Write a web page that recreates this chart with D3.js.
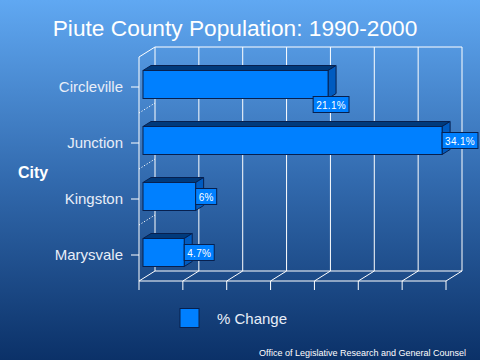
<!DOCTYPE html>
<html>
<head>
<meta charset="utf-8">
<script src="https://cdn.jsdelivr.net/npm/d3@7/dist/d3.min.js"></script>
<style>
  body { margin: 0; }
  svg { display: block; font-family: "Liberation Sans", Arial, sans-serif; }
</style>
</head>
<body>
<div id="chart"></div>
<script>
const cities = ["Circleville", "Junction", "Kingston", "Marysvale"];
const pctChange = [21.1, 34.1, 6, 4.7];
const valueLabels = ["21.1%", "34.1%", "6%", "4.7%"];
const xTicks = [0, 5, 10, 15, 20, 25, 30, 35];

const W = 480, H = 360;
// 3D depth of the plot box (back wall offset)
const depth = { dx: 16, dy: -10 };
const front = { left: 139, right: 446, top: 57, bottom: 281 };

const svg = d3.select("#chart").append("svg")
  .attr("width", W).attr("height", H);

const defs = svg.append("defs");
const grad = defs.append("linearGradient")
  .attr("id", "bg").attr("x1", 0).attr("y1", 0).attr("x2", 0).attr("y2", 1);
grad.append("stop").attr("offset", "0%").attr("stop-color", "#60a8f2");
grad.append("stop").attr("offset", "50%").attr("stop-color", "#326aae");
grad.append("stop").attr("offset", "100%").attr("stop-color", "#0b3168");

svg.append("rect").attr("width", W).attr("height", H).attr("fill", "url(#bg)");

const x = d3.scaleLinear().domain([0, 35]).range([front.left, front.right]);
const y = d3.scaleBand().domain(cities).range([59, 283])
  .paddingInner(0.5).paddingOuter(0.25);

const grid = svg.append("g")
  .attr("stroke", "#fff").attr("stroke-width", 1).attr("fill", "none");

// back wall
grid.selectAll(".back").data(xTicks).enter().append("line")
  .attr("x1", d => x(d) + depth.dx).attr("x2", d => x(d) + depth.dx)
  .attr("y1", front.top + depth.dy).attr("y2", front.bottom + depth.dy);
grid.append("line")
  .attr("x1", x(0) + depth.dx).attr("x2", x(35) + depth.dx)
  .attr("y1", front.top + depth.dy).attr("y2", front.top + depth.dy);
grid.append("line")
  .attr("x1", x(0) + depth.dx).attr("x2", x(35) + depth.dx)
  .attr("y1", front.bottom + depth.dy).attr("y2", front.bottom + depth.dy);

// floor
grid.selectAll(".floor").data(xTicks).enter().append("line")
  .attr("x1", d => x(d)).attr("x2", d => x(d) + depth.dx)
  .attr("y1", front.bottom).attr("y2", front.bottom + depth.dy);
grid.append("line")
  .attr("x1", x(0)).attr("x2", x(35))
  .attr("y1", front.bottom).attr("y2", front.bottom);
// x ticks
grid.selectAll(".xtick").data(xTicks).enter().append("line")
  .attr("x1", d => x(d)).attr("x2", d => x(d))
  .attr("y1", front.bottom).attr("y2", front.bottom + 9);

// left wall
grid.append("line")
  .attr("x1", front.left).attr("x2", front.left)
  .attr("y1", front.top).attr("y2", front.bottom);
grid.append("line")
  .attr("x1", front.left).attr("x2", front.left + depth.dx)
  .attr("y1", front.top).attr("y2", front.top + depth.dy);
grid.selectAll(".ytick").data(cities).enter().append("line")
  .attr("x1", front.left - 8).attr("x2", front.left)
  .attr("y1", d => y(d) + y.bandwidth() / 2).attr("y2", d => y(d) + y.bandwidth() / 2);
// dotted category dividers on the left wall
grid.selectAll(".div").data(cities.slice(1)).enter().append("line")
  .attr("x1", front.left).attr("x2", front.left + depth.dx)
  .attr("y1", d => y(d) - y.step() * 0.25 - 2)
  .attr("y2", d => y(d) - y.step() * 0.25 - 2 + depth.dy)
  .attr("stroke-dasharray", "1.2,1.8");

// bars (3D boxes)
const f1 = 0.25, f2 = 0.75;
const ox = depth.dx * f1, oy = depth.dy * f1;
const bx = depth.dx * (f2 - f1), by = depth.dy * (f2 - f1);
const outline = "#07204f";

const bars = svg.append("g").selectAll("g").data(cities).enter().append("g");
bars.each(function (c, i) {
  const g = d3.select(this);
  const x0 = x(0) + ox, x1 = x(pctChange[i]) + ox;
  const y0 = y(c) + oy, y1 = y0 + y.bandwidth();
  g.append("path")
    .attr("d", `M${x0},${y0}L${x0 + bx},${y0 + by}L${x1 + bx},${y0 + by}L${x1},${y0}Z`)
    .attr("fill", "#003a7c").attr("stroke", outline);
  g.append("path")
    .attr("d", `M${x1},${y0}L${x1 + bx},${y0 + by}L${x1 + bx},${y1 + by}L${x1},${y1}Z`)
    .attr("fill", "#005bc0").attr("stroke", outline);
  g.append("rect")
    .attr("x", x0).attr("y", y0).attr("width", x1 - x0).attr("height", y1 - y0)
    .attr("fill", "#0080ff").attr("stroke", outline);
});

// value labels
const lab = svg.append("g").attr("font-size", 10);
cities.forEach((c, i) => {
  const t = lab.append("text").attr("fill", "#fff")
    .attr("letter-spacing", 0.3).text(valueLabels[i]);
  const w = t.node().getComputedTextLength() + 6, h = 16;
  const xe = x(pctChange[i]) + ox;
  const yc = y(c) + oy + y.bandwidth() / 2;
  let bxl = xe, byt = yc - h / 2;
  if (i === 0) { bxl = xe + 3 - w / 2; byt = y(c) + oy + y.bandwidth() - 2; }
  lab.insert("rect", "text")
    .attr("x", bxl).attr("y", byt).attr("width", w).attr("height", h)
    .attr("fill", "#0080ff").attr("stroke", outline);
  t.attr("x", bxl + 3).attr("y", byt + 12);
});

// category labels
svg.append("g").selectAll("text").data(cities).enter().append("text")
  .attr("x", 123).attr("y", d => y(d) + y.bandwidth() / 2 + 5)
  .attr("text-anchor", "end").attr("font-size", 15).attr("fill", "#e8eef8")
  .text(d => d);

svg.append("text").attr("x", 18).attr("y", 178)
  .attr("font-size", 16).attr("font-weight", "bold").attr("fill", "#fff")
  .text("City");

svg.append("text").attr("x", 235).attr("y", 36).attr("text-anchor", "middle")
  .attr("font-size", 22.7).attr("fill", "#fff")
  .text("Piute County Population: 1990-2000");

// legend
svg.append("rect").attr("x", 180).attr("y", 308.5).attr("width", 19).attr("height", 19)
  .attr("fill", "#0080ff").attr("stroke", outline);
svg.append("text").attr("x", 217).attr("y", 324).attr("font-size", 15)
  .attr("fill", "#e8eef8").text("% Change");

svg.append("text").attr("x", 466).attr("y", 356).attr("text-anchor", "end")
  .attr("font-size", 9).attr("fill", "#fff")
  .text("Office of Legislative Research and General Counsel");
</script>
</body>
</html>
